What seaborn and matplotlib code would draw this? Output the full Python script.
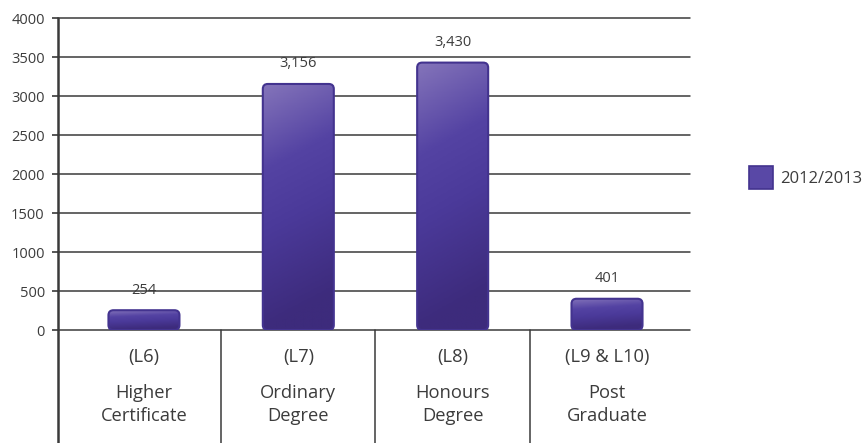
import numpy as np
import pandas as pd
import matplotlib.pyplot as plt
import seaborn as sns
from matplotlib.patches import FancyBboxPatch, Patch
from matplotlib.colors import LinearSegmentedColormap
import matplotlib.transforms as mtransforms

# data
levels = ["(L6)", "(L7)", "(L8)", "(L9 & L10)"]
names = ["Higher\nCertificate", "Ordinary\nDegree", "Honours\nDegree", "Post\nGraduate"]
values = [254, 3156, 3430, 401]
series_name = "2012/2013"
y_ticks = [0, 500, 1000, 1500, 2000, 2500, 3000, 3500, 4000]

df = pd.DataFrame({"level": levels, "students": values})

sns.set_style("white")
plt.rcParams['font.family'] = ['Open Sans', 'DejaVu Sans']

text_col = "#3c3c3c"
line_col = "#3a3a3a"
bar_col = "#4f3f9f"
edge_col = "#43338f"

fig = plt.figure(figsize=(8.68, 4.43), dpi=100)
ax = fig.add_axes([0.0668, 0.255, 0.795 - 0.0668, 0.959 - 0.255])

sns.barplot(data=df, x="level", y="students", color=bar_col, width=0.46, ax=ax,
            saturation=1, zorder=2)

ax.set_xlim(-0.557, 3.538)
ax.set_ylim(0, 4000)
ax.set_yticks(y_ticks)
ax.set_yticklabels([str(t) for t in y_ticks], color=text_col, fontsize=10.5)
ax.set_xticks([])
ax.set_xlabel("")
ax.set_ylabel("")
ax.tick_params(axis="y", left=True, length=4.5, width=1.2, color=line_col, pad=5)

# gridlines
ax.yaxis.grid(True, color=line_col, linewidth=1.1)
ax.set_axisbelow(True)
for gl in ax.get_ygridlines():
    gl.set_clip_on(False)
for s in ["top", "right", "bottom", "left"]:
    ax.spines[s].set_visible(False)

# left axis line running down into the label table
ax.plot([0, 0], [-0.362, 1], transform=ax.transAxes, color=line_col,
        linewidth=1.8, clip_on=False, zorder=3)

# vertical separators below the axis
trans = mtransforms.blended_transform_factory(ax.transData, ax.transAxes)
for i in range(len(levels) - 1):
    ax.plot([i + 0.5, i + 0.5], [0, -0.362], transform=trans, color=line_col,
            linewidth=1.1, clip_on=False)

# category labels
for i, (lv, nm) in enumerate(zip(levels, names)):
    ax.text(i, -0.085, lv, transform=trans, ha="center", va="center",
            fontsize=13.2, color=text_col)
    ax.text(i, -0.238, nm, transform=trans, ha="center", va="center",
            fontsize=13.2, color=text_col, linespacing=1.35)

# gradient, rounded bars
cmap = LinearSegmentedColormap.from_list(
    "bar", [(0.0, "#8474ba"), (0.35, "#5443a3"), (0.6, "#4b3a9a"), (1.0, "#3d2b7c")])
px_per_x = (0.795 - 0.0668) * 868 / (3.538 + 0.557)
px_per_y = (0.959 - 0.255) * 443 / 4000
aspect = px_per_x / px_per_y
bars = list(ax.patches)
for p, v in zip(bars, values):
    x0, y0 = p.get_x(), p.get_y()
    w, h = p.get_width(), p.get_height()
    p.set_visible(False)
    r = 5 / px_per_x
    box = FancyBboxPatch((x0, y0), w, h,
                         boxstyle=f"round,pad=0,rounding_size={r}",
                         mutation_aspect=aspect, facecolor="none",
                         edgecolor=edge_col, linewidth=1.5, zorder=4)
    ax.add_patch(box)
    ny, nx = 100, 40
    yy = np.linspace(0, 1, ny)[:, None]
    xx = np.linspace(0, 1, nx)[None, :]
    grad = yy + 0.15 * xx
    grad = np.clip(grad, 0, 1)
    im = ax.imshow(grad, extent=(x0, x0 + w, y0, y0 + h), origin="upper",
                   cmap=cmap, aspect="auto", zorder=3, vmin=0, vmax=1)
    im.set_clip_path(box)
    ax.annotate(f"{v:,}", (x0 + w / 2, y0 + h), xytext=(0, 9),
                textcoords="offset points", ha="center", va="bottom",
                fontsize=10.5, color=text_col)

ax.set_xlim(-0.557, 3.538)
ax.set_ylim(0, 4000)

handle = Patch(facecolor="#5948a6", edgecolor=edge_col, linewidth=1.2)
leg = ax.legend([handle], [series_name], loc="center left",
                bbox_to_anchor=(1.07, 0.49), frameon=False, fontsize=12,
                handlelength=1.45, handleheight=1.75, handletextpad=0.4,
                labelcolor=text_col)

fig.savefig("out.png", dpi=100)
